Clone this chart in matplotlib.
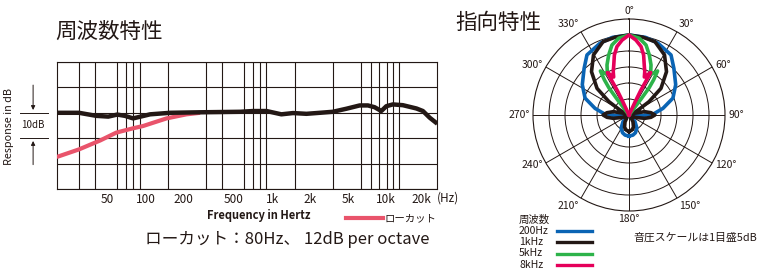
import numpy as np
import matplotlib.pyplot as plt
from matplotlib.lines import Line2D
import matplotlib.transforms as mtransforms

plt.rcParams['font.family'] = ['Noto Sans CJK JP', 'DejaVu Sans']

INK = '#231815'
W, H = 760, 280

# ---- 周波数特性 データ ----
flat_hz = [20, 30, 41, 51, 60, 69, 80, 90, 109, 157, 268, 386, 556, 706, 901,
           1180, 1460, 1860, 2370, 3000, 3840, 4890, 5680, 6410, 7240, 7930,
           8930, 10700, 13700, 15400, 17400, 20000]
flat_db = [0, 0, -1.2, -1.5, -0.7, -1.2, -2.2, -1.6, -0.6, 0, 0.2, 0.3, 0.4, 0.7, 0.7,
           -0.6, -0.1, -0.4, 0, 0.4, 1.6, 2.9, 2.9, 2.2, 0.7, 2.6,
           3.3, 3.0, 1.7, 0.7, -1.9, -4.3]
lowcut_hz = [20, 30, 44, 59, 80, 96, 147, 211, 270]
lowcut_db = [-17.4, -14.4, -10.9, -7.8, -6.1, -5.2, -2.2, -0.6, 0]

grid_hz = [30, 40, 50, 60, 70, 80, 90, 100, 150, 200, 300, 400, 500, 600, 700, 800, 900,
           1000, 1500, 2000, 3000, 4000, 5000, 6000, 7000, 8000, 9000, 10000, 15000]
label_hz = [50, 100, 200, 500, 1000, 2000, 4000, 7800, 15000]
label_txt = ['50', '100', '200', '500', '1k', '2k', '5k', '10k', '20k']
grid_db = [-30, -20, -10, 0, 10, 20]

# ---- 指向特性 データ (右半分, 左右対称) ----
polar_names = ['200Hz', '1kHz', '5kHz', '8kHz']
polar_colors = ['#0a64b4', INK, '#2db34a', '#e5005a']
blue_deg = [0, 12, 22, 35, 44, 57, 69, 79, 87, 92, 97, 105, 130, 138, 149, 160, 169, 180]
blue_db = [0, -0.2, -0.8, -2.1, -4.8, -7.6, -10.3, -14.2, -17.2, -20.6, -23.1, -24.4,
           -23.8, -22.2, -20.2, -19.1, -18.6, -18.4]
black_deg = [0, 10, 19.5, 30.6, 40.9, 50.2, 56.4, 62, 66, 70, 78, 84, 90, 96, 102, 110,
             116, 140, 150, 160, 170, 180]
black_db = [0, -0.3, -0.7, -3.2, -7.1, -12, -17.5, -22, -24.5, -23.5, -20, -18.1, -16.9,
            -18.1, -20, -22.8, -24.5, -24.1, -22.5, -20.9, -20.2, -19.8]
green_deg = [0, 7.7, 13.7, 18.7, 23.7, 28, 33, 35, 36.5, 37, 37, 40]
green_db = [0, -0.8, -2.5, -5.2, -7.9, -10.6, -8.6, -11.6, -14.5, -18.5, -22.5, -25]
pink_deg = [0, 5.3, 10, 13.7, 17, 20, 22, 27, 26.5, 25.5, 25, 25, 30]
pink_db = [0, -1.5, -3.3, -5.7, -8.7, -10.6, -12.2, -10.1, -13.4, -16.6, -20.3, -23.8, -25]
polar_deg = [blue_deg, black_deg, green_deg, pink_deg]
polar_db = [blue_db, black_db, green_db, pink_db]


def fx(x):
    return x / W


def fy(y):
    return 1 - y / H


fig = plt.figure(figsize=(7.6, 2.8), dpi=100)
fig.patch.set_facecolor('white')

# ---- 周波数特性 ----
ax = fig.add_axes([fx(56.7), fy(189), 380.6 / W, 127 / H])
ax.set_xscale('log')
ax.plot(lowcut_hz, lowcut_db, color='#e9546b', lw=3.0, solid_capstyle='butt', zorder=3)
ax.plot(flat_hz, flat_db, color=INK, lw=3.2, solid_capstyle='butt', zorder=4)
ax.set_xlim(20, 20000)
ax.set_ylim(-30, 20)
ax.set_xticks(label_hz)
ax.set_xticklabels(label_txt)
ax.set_xticks(grid_hz, minor=True)
ax.set_xticklabels([], minor=True)
ax.set_yticks(grid_db)
ax.set_yticklabels([])
ax.tick_params(which='both', length=0, labelsize=8.5, labelcolor=INK, pad=3)
ax.grid(which='minor', axis='x', color=INK, lw=0.8)
ax.grid(which='major', axis='y', color=INK, lw=0.8)
for s in ax.spines.values():
    s.set_color(INK)
    s.set_linewidth(0.8)

fig.text(fx(437), fy(198), '(Hz)', fontsize=8.5, color=INK, va='center', ha='left')
fig.text(fx(259), fy(215), 'Frequency in Hertz', fontsize=8, fontweight='bold',
         color=INK, ha='center', va='center')
fig.text(fx(9), fy(127), 'Response in dB', fontsize=7.8, color=INK, rotation=90,
         ha='center', va='center')
fig.text(fx(55), fy(32), '周波数特性', fontsize=15.5, color=INK, ha='left', va='center')

# 10dB 目盛
tr = mtransforms.blended_transform_factory(ax.transAxes, ax.transData)
for yv in (0, -10):
    ax.plot([-0.0964, -0.0229], [yv, yv], color=INK, lw=0.7, transform=tr, clip_on=False)
ax.annotate('', xy=(-0.062, 0), xytext=(-0.062, 12), xycoords=tr, textcoords=tr,
            arrowprops=dict(arrowstyle='-|>', color=INK, lw=0.7, mutation_scale=6))
ax.annotate('', xy=(-0.062, -10), xytext=(-0.062, -21.5), xycoords=tr, textcoords=tr,
            arrowprops=dict(arrowstyle='-|>', color=INK, lw=0.7, mutation_scale=6))
ax.text(-0.062, -5, '10dB', transform=tr, fontsize=7, color=INK, ha='center', va='center')

# ローカット凡例
fig.add_artist(Line2D([fx(346), fx(383)], [fy(217.7), fy(217.7)], color='#e9546b', lw=3.0))
fig.text(fx(385), fy(218), 'ローカット', fontsize=7.5, color=INK, ha='left', va='center')
fig.text(fx(145), fy(239), 'ローカット：80Hz、 12dB per octave', fontsize=12, color=INK,
         ha='left', va='center')

# ---- 指向特性 ----
pax = fig.add_axes([fx(533), fy(211), 192 / W, 192 / H], projection='polar')
pax.set_theta_zero_location('N')
pax.set_theta_direction(-1)
for deg, db, col in zip(polar_deg, polar_db, polar_colors):
    d = np.array(deg)
    v = np.array(db)
    th = np.deg2rad(np.concatenate([-d[::-1], d[1:]]))
    rr = np.concatenate([v[::-1], v[1:]])
    pax.plot(th, rr, color=col, lw=2.6, solid_joinstyle='round')
pax.set_rlim(-25, 5)
pax.set_rticks([-20, -15, -10, -5, 0])
pax.set_yticklabels([])
pax.set_thetagrids(range(0, 360, 30), labels=[])
pax.grid(color=INK, lw=0.7)
pax.spines['polar'].set_color(INK)
pax.spines['polar'].set_linewidth(0.8)
pax.tick_params(length=0)

for a in range(0, 360, 30):
    if a in (0, 180):
        ha = 'center'
    elif a < 180:
        ha = 'left'
    else:
        ha = 'right'
    if a in (330, 0, 30):
        va = 'bottom'
    elif a in (150, 180, 210):
        va = 'top'
    else:
        va = 'center'
    pax.text(np.deg2rad(a), 6.0, f'{a}°', fontsize=7.5, color=INK, ha=ha, va=va,
             clip_on=False)

fig.text(fx(455), fy(23), '指向特性', fontsize=15.5, color=INK, ha='left', va='center')

# 周波数 凡例
fig.text(fx(519), fy(220), '周波数', fontsize=7.5, color=INK, ha='left', va='center')
leg_y = [231, 242, 253.5, 265]
for name, col, yy in zip(polar_names, polar_colors, leg_y):
    fig.text(fx(519), fy(yy), name, fontsize=7.5, color=INK, ha='left', va='center')
    fig.add_artist(Line2D([fx(557), fx(592)], [fy(yy), fy(yy)], color=col, lw=2.4))
fig.text(fx(633), fy(238), '音圧スケールは1目盛5dB', fontsize=7.8, color=INK,
         ha='left', va='center')

fig.savefig('out.png', dpi=100, facecolor='white')
